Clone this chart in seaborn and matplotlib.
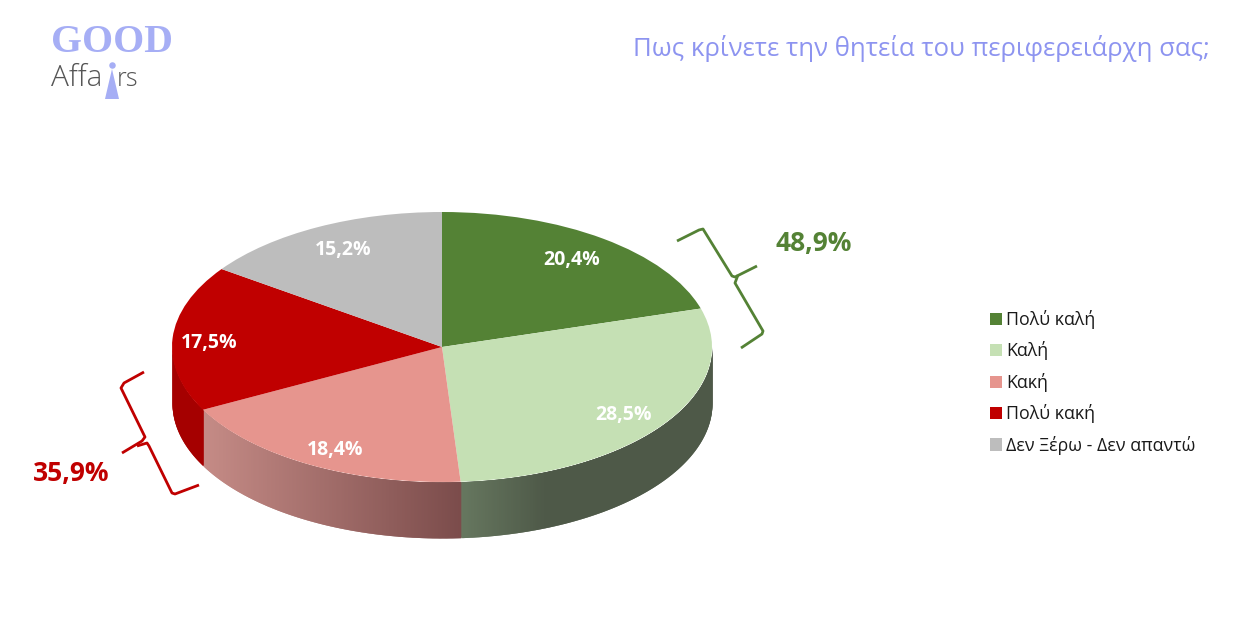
import numpy as np
import matplotlib
matplotlib.use("Agg")
import matplotlib.pyplot as plt
import seaborn as sns

W, H = 1233, 621

categories = ["Πολύ καλή", "Καλή", "Κακή", "Πολύ κακή", "Δεν Ξέρω - Δεν απαντώ"]
values = [20.4, 28.5, 18.4, 17.5, 15.2]
positive_total = "48,9%"
negative_total = "35,9%"
title = "Πως κρίνετε την θητεία του περιφερειάρχη σας;"

top_colors = ["#548235", "#C5E0B4", "#E6958E", "#C00000", "#BDBDBD"]
# side wall shading of the slices that reach the front, left to right
wall_stops = {
    1: ["#66775F", "#4E5948", "#4E5948", "#4E5948"],
    2: ["#C58B86", "#7B4C4B"],
    3: ["#A50000", "#A50000"],
}
label_dist = [0.82, 0.83, 0.85, 0.86, 0.82]
label_nudge_px = [(-3, 2), (-3, 4), (5, 3), (-1, 4), (3, 1)]

GREEN = "#548235"
RED = "#C00000"
LOGO = "#A6AEF5"

sns.set_theme(style="white")
plt.rcParams["font.family"] = ["Open Sans", "DejaVu Sans"]

fig = plt.figure(figsize=(W / 100, H / 100), dpi=100)

# overlay in pixel coordinates for logo, braces and free text
over = fig.add_axes([0, 0, 1, 1], zorder=3)
over.set_xlim(0, W)
over.set_ylim(H, 0)
over.axis("off")

# the pie top is an ordinary pie squashed by the axes box
ax = fig.add_axes([172 / W, (H - 482) / H, 540 / W, 270 / H], zorder=2)
wedges, _, autotexts = ax.pie(
    values, colors=top_colors, startangle=90, counterclock=False,
    autopct=lambda p: f"{p:.1f}".replace(".", ",") + "%",
    pctdistance=0.83,
    textprops=dict(color="white", fontsize=14, fontweight="bold"),
    wedgeprops=dict(linewidth=0, zorder=5),
)
ax.set_aspect("auto")
ax.set_xlim(-1, 1)
ax.set_ylim(-1, 1)
for t, d, (nx, ny) in zip(autotexts, label_dist, label_nudge_px):
    x, y = t.get_position()
    t.set_position((x / 0.83 * d + nx / 270, y / 0.83 * d - ny / 135))
    t.set_zorder(6)

# side wall, taken from the angles of the pie wedges
depth = 56 / 135
inset = 1 / 135
for i, stops in wall_stops.items():
    t1 = max(wedges[i].theta1 % 360, 180)
    t2 = wedges[i].theta2 % 360
    t2 = 360 if t2 <= t1 else min(t2, 360)
    cmap = sns.blend_palette(stops, n_colors=256, as_cmap=True)
    th = np.radians(np.append(np.arange(t1, t2, 0.25), t2))
    xs, ys = np.cos(th), np.sin(th)
    for k in range(len(th) - 1):
        c = cmap((xs[k] - xs[0]) / (xs[-1] - xs[0]))
        # each strip runs under the next one, the first pass keeps a soft outer edge
        ax.fill_between(xs[k:k + 3], ys[k:k + 3], ys[k:k + 3] - depth, color=c,
                        linewidth=0, clip_on=False, zorder=2)
        # second pass evens out the inside
        ax.fill_between(xs[k:k + 3], ys[k:k + 3], ys[k:k + 3] - depth + inset, color=c,
                        linewidth=0, clip_on=False, zorder=3, antialiased=False)

over.legend(wedges, categories, loc="upper left", bbox_to_anchor=(990, 310),
            bbox_transform=over.transData, frameon=False, fontsize=12.8,
            borderaxespad=0, borderpad=0, handlelength=0.67, handleheight=0.67,
            handletextpad=0.22, labelspacing=0.70, labelcolor="#1a1a1a")

# title and group totals
over.text(1210, 49, title, ha="right", va="center", color="#8D94F0", fontsize=18.5)
over.text(776, 244, positive_total, ha="left", va="center", color=GREEN, fontsize=19, fontweight="bold")
over.text(33, 473, negative_total, ha="left", va="center", color=RED, fontsize=19, fontweight="bold")

# braces
green_brace = [(677, 241), (699, 230), (703, 229), (732, 276), (735, 277), (757, 266)]
green_brace2 = [(738, 275), (735, 283), (763, 331), (762, 334), (741, 348)]
red_brace = [(144, 372), (124, 383), (121, 388), (145, 437), (142, 441), (122, 453)]
red_brace2 = [(137, 446), (147, 443), (149, 446), (172, 493), (175, 494), (199, 485)]
for pts, col in [(green_brace, GREEN), (green_brace2, GREEN), (red_brace, RED), (red_brace2, RED)]:
    px, py = zip(*pts)
    over.plot(px, py, color=col, lw=2.0, solid_joinstyle="round", solid_capstyle="butt")

# logo
over.text(51, 43, "GOOD", ha="left", va="center", color=LOGO, fontsize=28.6,
          fontweight="bold", family="Liberation Serif")
over.text(51, 86, "Affa", ha="left", va="baseline", color="#555555", fontsize=21.5, fontweight="light")
over.text(117, 86, "rs", ha="left", va="baseline", color="#555555", fontsize=18, fontweight="light")
over.fill([112, 105, 119], [69, 99, 99], color=LOGO, linewidth=0)
over.scatter([112], [65], s=22, color=LOGO, linewidth=0)

fig.savefig("out.png", dpi=100, facecolor="white")
